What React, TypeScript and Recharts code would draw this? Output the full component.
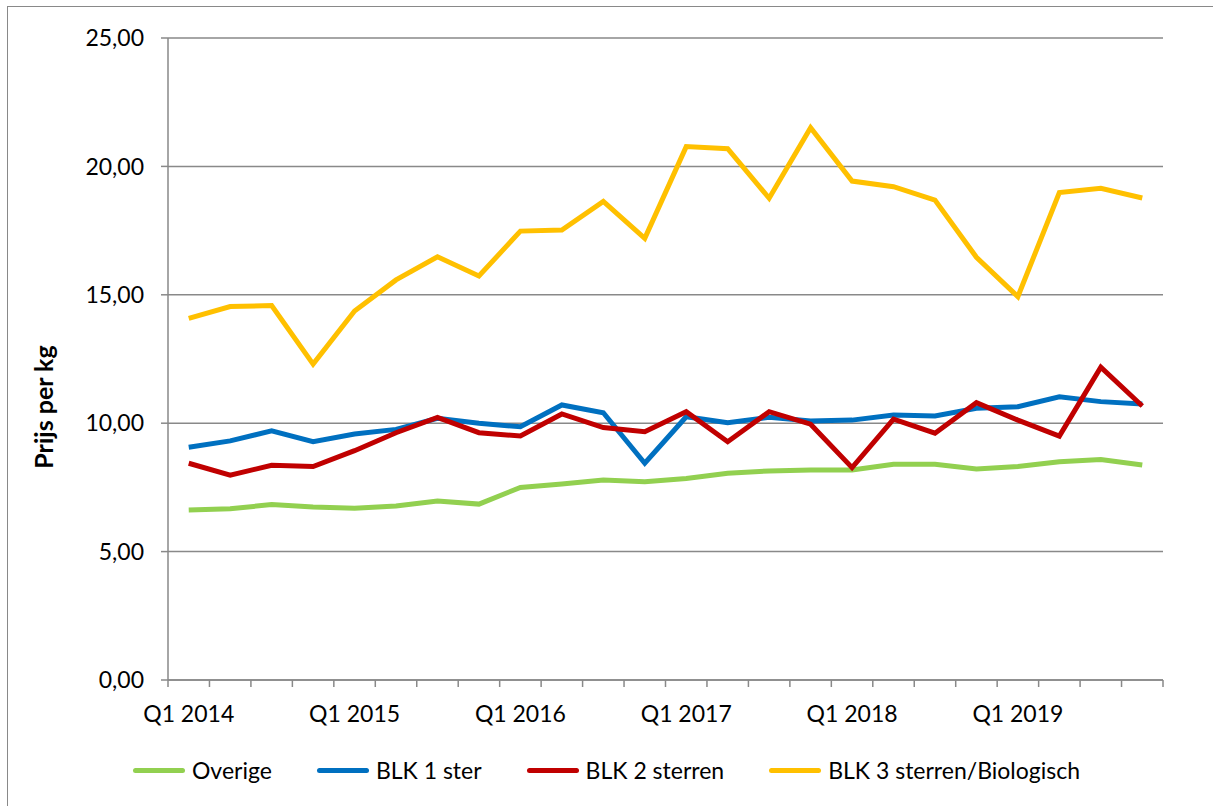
import React from "react";
import { LineChart, Line, XAxis, YAxis, CartesianGrid, Legend } from "recharts";

const quarters = [
  "Q1 2014", "Q2 2014", "Q3 2014", "Q4 2014",
  "Q1 2015", "Q2 2015", "Q3 2015", "Q4 2015",
  "Q1 2016", "Q2 2016", "Q3 2016", "Q4 2016",
  "Q1 2017", "Q2 2017", "Q3 2017", "Q4 2017",
  "Q1 2018", "Q2 2018", "Q3 2018", "Q4 2018",
  "Q1 2019", "Q2 2019", "Q3 2019", "Q4 2019",
];

const overige = [
  6.62, 6.67, 6.83, 6.74, 6.69, 6.78, 6.97, 6.85, 7.5, 7.63, 7.79, 7.72,
  7.85, 8.05, 8.14, 8.18, 8.18, 8.4, 8.4, 8.22, 8.31, 8.5, 8.59, 8.37,
];
const blk1 = [
  9.06, 9.31, 9.7, 9.28, 9.58, 9.76, 10.19, 10.0, 9.86, 10.71, 10.41, 8.44,
  10.25, 10.02, 10.23, 10.09, 10.12, 10.32, 10.28, 10.58, 10.64, 11.03, 10.84, 10.75,
];
const blk2 = [
  8.44, 7.98, 8.36, 8.31, 8.93, 9.63, 10.23, 9.63, 9.5, 10.36, 9.83, 9.67,
  10.45, 9.28, 10.45, 9.96, 8.27, 10.16, 9.61, 10.8, 10.12, 9.5, 12.18, 10.67,
];
const blk3 = [
  14.08, 14.54, 14.58, 12.3, 14.37, 15.58, 16.48, 15.73, 17.48, 17.52, 18.64, 17.2,
  20.77, 20.69, 18.76, 21.51, 19.43, 19.21, 18.69, 16.46, 14.93, 18.98, 19.15, 18.77,
];

const yTicks = [0, 5, 10, 15, 20, 25];

const series = [
  { key: "overige", name: "Overige", color: "#92D050" },
  { key: "blk1", name: "BLK 1 ster", color: "#0070C0" },
  { key: "blk2", name: "BLK 2 sterren", color: "#C00000" },
  { key: "blk3", name: "BLK 3 sterren/Biologisch", color: "#FFC000" },
];

const data = quarters.map((q, i) => ({
  quarter: q,
  overige: overige[i],
  blk1: blk1[i],
  blk2: blk2[i],
  blk3: blk3[i],
}));

const GRID = "#898989";
const FONT = "Lato, 'Open Sans', sans-serif";

const XTick = (props: any) => {
  const { x, y, payload, index } = props;
  const half = payload?.offset ?? 0;
  const showLabel = index % 4 === 0;
  const last = index === quarters.length - 1;
  return (
    <g>
      <line x1={x - half} y1={y - 7} x2={x - half} y2={y} stroke={GRID} strokeWidth={1.5} />
      {last && <line x1={x + half} y1={y - 7} x2={x + half} y2={y} stroke={GRID} strokeWidth={1.5} />}
      {showLabel && (
        <text x={x} y={y} dy={35} textAnchor="middle" fill="#000" fontSize={23} fontFamily={FONT}>
          {payload.value}
        </text>
      )}
    </g>
  );
};

const LegendContent = () => (
  <div style={{ display: "flex", justifyContent: "center", alignItems: "center", fontFamily: FONT, fontSize: 23, lineHeight: "28px", color: "#000" }}>
    {series.map((s, i) => (
      <div key={s.key} style={{ display: "flex", alignItems: "center", marginRight: i === series.length - 1 ? 0 : 45 }}>
        <span style={{ display: "inline-block", width: 52, height: 5, background: s.color, borderRadius: 3, marginRight: 7 }} />
        <span>{s.name}</span>
      </div>
    ))}
  </div>
);

export default function App() {
  return (
    <div style={{ position: "absolute", left: 0, top: 0, width: 1213, height: 806, overflow: "hidden", background: "#fff" }}>
      <div style={{ position: "absolute", left: 7, top: 6, width: 1240, height: 840, border: `1px solid ${GRID}` }} />
      <LineChart
        width={1213}
        height={806}
        data={data}
        margin={{ top: 38, right: 50, bottom: 0, left: 0 }}
      >
        <CartesianGrid vertical={false} stroke={GRID} strokeWidth={1.5} />
        <XAxis
          dataKey="quarter"
          scale="band"
          interval={0}
          height={126}
          tickSize={7}
          tickMargin={0}
          tickLine={false}
          axisLine={{ stroke: GRID, strokeWidth: 1.5 }}
          tick={<XTick />}
        />
        <YAxis
          width={168}
          domain={[0, 25]}
          ticks={yTicks}
          interval={0}
          tickSize={7}
          tickMargin={17}
          tickLine={{ stroke: GRID, strokeWidth: 1.5 }}
          axisLine={{ stroke: GRID, strokeWidth: 1.5 }}
          tick={{ fill: "#000", fontSize: 23, fontFamily: FONT }}
          tickFormatter={(v: number) => v.toFixed(2).replace(".", ",")}
          label={{
            content: () => (
              <text
                x={43}
                y={407}
                transform="rotate(-90 43 407)"
                textAnchor="middle"
                dominantBaseline="central"
                fontSize={25}
                fontWeight="bold"
                fontFamily={FONT}
                fill="#000"
              >
                Prijs per kg
              </text>
            ),
          }}
        />
        <Legend
          layout="horizontal"
          verticalAlign="middle"
          align="center"
          wrapperStyle={{ top: 756, left: 0, width: 1213 }}
          content={<LegendContent />}
        />
        {series.map((s) => (
          <Line
            key={s.key}
            type="linear"
            dataKey={s.key}
            name={s.name}
            stroke={s.color}
            strokeWidth={5}
            dot={false}
            activeDot={false}
            isAnimationActive={false}
          />
        ))}
      </LineChart>
    </div>
  );
}
